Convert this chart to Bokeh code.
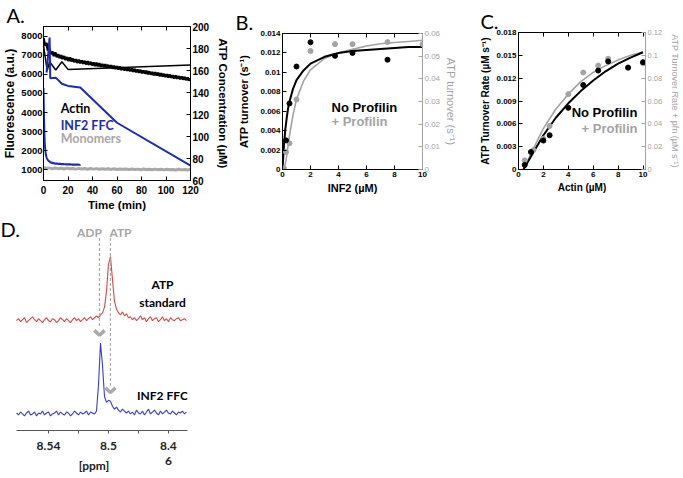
import numpy as np
from bokeh.plotting import figure
from bokeh.models import Range1d, LinearAxis, FixedTicker, CustomJSTickFormatter, Label, Title
from bokeh.layouts import row, column
from bokeh.embed import file_html
from bokeh.resources import INLINE
from bokeh.core.properties import value

# ---------------- Panel A data ----------------
A_ACTIN_T = np.arange(101) * 1.2
A_ACTIN_F = [7900, 7500, 7650, 7250, 7350, 7050, 7200, 6950, 7150, 6900,
             7050, 6850, 7000, 6800, 6950, 6750, 6900, 6700, 6880, 6680,
             6820, 6640, 6790, 6600, 6760, 6580, 6720, 6560, 6700, 6520,
             6680, 6500, 6650, 6470, 6620, 6440, 6600, 6420, 6580, 6400,
             6540, 6380, 6520, 6350, 6490, 6330, 6470, 6300, 6450, 6280,
             6420, 6260, 6400, 6230, 6370, 6210, 6350, 6190, 6330, 6160,
             6300, 6140, 6280, 6110, 6250, 6090, 6230, 6060, 6200, 6040,
             6180, 6010, 6150, 5990, 6120, 5960, 6100, 5940, 6080, 5910,
             6050, 5890, 6020, 5860, 6000, 5840, 5980, 5820, 5950, 5790,
             5930, 5770, 5900, 5750, 5880, 5730, 5860, 5700, 5830, 5680, 5780]
A_MONO_T = np.arange(51) * 2.4
A_MONO_F = [1130, 1080, 1110, 1060, 1100, 1070, 1090, 1050, 1095, 1060,
            1080, 1045, 1085, 1050, 1075, 1040, 1080, 1045, 1070, 1035,
            1065, 1040, 1060, 1030, 1065, 1025, 1055, 1035, 1050, 1020,
            1055, 1025, 1045, 1015, 1050, 1020, 1040, 1010, 1045, 1015,
            1035, 1005, 1040, 1010, 1030, 1000, 1035, 1005, 1025, 995, 1030]
A_FFC_T = [0, 0.25, 0.5, 0.75, 1, 1.5, 2, 2.5, 3, 3.5, 4, 4.5, 5, 5.6, 6.2, 6.8,
           7.4, 8, 8.6, 9.2, 9.8, 10.4, 11, 11.6, 12.2, 12.8, 13.4, 14, 14.6,
           15.2, 15.8, 16.4, 17, 17.6, 18.2, 18.8, 19.4, 20, 20.6, 21.2, 21.8,
           22.4, 23, 23.6, 24.2, 24.8, 25.4, 26, 26.6, 27.2, 27.8, 28.4, 29, 29.6, 30]
A_FFC_F = [5300, 4300, 3500, 2900, 2450, 2000, 1780, 1650, 1580, 1520, 1490, 1440,
           1460, 1380, 1420, 1350, 1400, 1330, 1380, 1320, 1370, 1300, 1360, 1300,
           1350, 1290, 1345, 1285, 1340, 1280, 1335, 1275, 1330, 1270, 1330, 1265,
           1325, 1260, 1320, 1262, 1318, 1258, 1315, 1255, 1312, 1252, 1310, 1250,
           1308, 1248, 1305, 1246, 1302, 1245, 1290]
A_ATP_ACTIN_T = [0, 3, 5, 10, 15, 20, 120]
A_ATP_ACTIN = [183, 160, 168, 160.5, 168, 161, 165]
A_ATP_FFC_T = [2.5, 5, 5.5, 10, 15, 20, 30, 60, 120]
A_ATP_FFC = [158, 190, 153, 153.5, 148, 146, 144.5, 112.5, 73.5]
A_X_TICKS = [0, 20, 40, 60, 80, 100, 120]
A_L_TICKS = [1000, 2000, 3000, 4000, 5000, 6000, 7000, 8000]
A_R_TICKS = [60, 80, 100, 120, 140, 160, 180, 200]
A_LEGEND = ["Actin", "INF2 FFC", "Monomers"]
A_LEGEND_Y = [4230, 3340, 2630]

# ---------------- Panel B data ----------------
B_X_BLACK = [0.25, 0.5, 1, 2, 3.75, 5, 7.5]
B_Y_BLACK = [0.0030, 0.0068, 0.0106, 0.0131, 0.0117, 0.0120, 0.0113]
B_X_GRAY = [0.1, 0.25, 0.5, 1, 2, 3.75, 5, 7.5, 10]
B_Y_GRAY = [0.0005, 0.0077, 0.0116, 0.0309, 0.0523, 0.0553, 0.0553, 0.0562, 0.0553]
B_FIT_X = [0, 0.1, 0.2, 0.3, 0.4, 0.5, 0.75, 1, 1.5, 2, 3, 4, 5, 6, 7, 8, 9, 10]
B_FIT_BLACK = [0, 0.0024, 0.0041, 0.0053, 0.0063, 0.0070, 0.0083, 0.0092, 0.0102,
               0.0109, 0.0116, 0.0120, 0.0122, 0.0123, 0.0124, 0.0125, 0.0126, 0.0126]
B_FIT_GRAY_X = [0.1, 0.25, 0.5, 0.75, 1, 1.5, 2, 3, 4, 5, 6, 7, 8, 9, 10]
B_FIT_GRAY = [0, 0.004, 0.015, 0.024, 0.031, 0.039, 0.044, 0.049, 0.0515, 0.053,
              0.0545, 0.0555, 0.056, 0.0565, 0.057]
B_X_TICKS = [0, 2, 4, 6, 8, 10]
B_L_TICKS = [0, 0.002, 0.004, 0.006, 0.008, 0.01, 0.012, 0.014]
B_R_TICKS = [0, 0.01, 0.02, 0.03, 0.04, 0.05, 0.06]

# ---------------- Panel C data ----------------
C_X_BLACK = [0.5, 1, 2, 2.5, 4, 5.2, 6.4, 7.2, 8.8, 10]
C_Y_BLACK = [0.0006, 0.0023, 0.0038, 0.0045, 0.0081, 0.0111, 0.0130, 0.0142, 0.0134, 0.0141]
C_X_GRAY = [0.5, 1.2, 2, 2.5, 4, 5.2, 6.4, 7.2, 8.8, 10]
C_Y_GRAY = [0.008, 0.017, 0.027, 0.038, 0.066, 0.085, 0.091, 0.097, 0.089, 0.093]
C_FIT_X = [0.4, 1, 2, 3, 4, 5, 6, 7, 8, 9, 10]
C_FIT_BLACK = [0, 0.0017, 0.0045, 0.0068, 0.0087, 0.0103, 0.0117, 0.0129, 0.0139, 0.0147, 0.0154]
C_FIT_GRAY = [0, 0.014, 0.036, 0.053, 0.066, 0.077, 0.085, 0.091, 0.096, 0.100, 0.103]
C_X_TICKS = [0, 2, 4, 6, 8, 10]
C_L_TICKS = [0, 0.003, 0.006, 0.009, 0.012, 0.015, 0.018]
C_R_TICKS = [0, 0.02, 0.04, 0.06, 0.08, 0.1, 0.12]

# ---------------- Panel D data ----------------
D_PPM = np.linspace(8.5613, 8.4480, 86)
D_RED = [0, 2, -1, 1, 3, -2, 0, 2, 4, 1, -1, 2, 0, -2, 1, 3, 0, -1, 2, 1, -2, 0,
         3, 1, -1, 2, 0, -2, 1, 3, 0, 2, -1, 1, 3, 0, 2, 4, 1, 3, 5, 3, 6,
         8, 14, 30, 58, 66, 42, 20, 12, 8, 6, 9, 5, 7, 3,
         4, 1, 3, 0, 2, 5, 1, 3, -1, 2, 4, 0, 2, 3, -1, 1, 4, 0, 2, -1, 3, 1,
         0, 2, 3, 0, 1, 2, 0]
D_BLUE = [1, -1, 2, 0, -2, 1, 3, -1, 0, 2, -2, 1, 0, 3, -1, 1, 2, -2, 0, 1, 3,
          -1, 2, 0, -1, 2, 1, -2, 0, 3, 1, -1, 2, 0, 1, 3, -1, 2, 1, 0,
          3, 30, 73, 50, 18, 12, 14, 13, 8, 5, 7, 4, 2, 5, 3,
          1, 3, 0, 2, -1, 4, 1, 0, 3, -1, 2, 5, 0, 2, 4, 1, -1, 3, 0, 2, 4, 1,
          0, 3, 1, -1, 2, 1, 3, 0, 2]
D_RED_OFFSET = 113
D_BLUE_OFFSET = 17
D_PEAK_PPM = [8.506, 8.4987]          # ADP, ATP
D_PEAK_NAMES = ["ADP", "ATP"]
D_NAME_PPM = [8.5127, 8.492]
D_NAME_Y = [204, 204]
D_DASH_TOP = [198, 198]
D_DASH_BOTTOM = [106, 46]
D_CHEVRON_Y = [98, 39]
D_X_TICKS = [8.54, 8.52, 8.5, 8.48, 8.46]
D_X_LABELS = {8.54: "8.54", 8.52: "", 8.5: "8.5", 8.48: "", 8.46: "8.4\n6"}
D_TRACE_NAMES = ["ATP\nstandard", "INF2 FFC"]
D_TRACE_NAME_PPM = [8.464, 8.464]
D_TRACE_NAME_Y = [141, 36]

SANS = "Liberation Sans"
CAL = "Lato"
GRAY = "#a3a3a3"
BLUE_A = "#1b2bb5"


def style_axis(ax, color, size, label_size, bold=True, label_bold=True, font=SANS):
    ax.major_tick_in = 4
    ax.major_tick_out = 0
    ax.minor_tick_line_color = None
    ax.axis_line_color = color
    ax.major_tick_line_color = color
    ax.major_label_text_color = color
    ax.major_label_text_font = font
    ax.major_label_text_font_size = size
    ax.major_label_text_font_style = "bold" if bold else "normal"
    ax.major_label_standoff = 2
    ax.axis_label_text_color = color
    ax.axis_label_text_font = font
    ax.axis_label_text_font_size = label_size
    ax.axis_label_text_font_style = "bold" if label_bold else "normal"
    ax.axis_label_standoff = 2


def js_fmt():
    return CustomJSTickFormatter(code="return String(tick);")


def base_fig(w, h, xr, yr, bl, br, bt, bb):
    p = figure(width=w, height=h, x_range=xr, y_range=yr, title=None,
               output_backend="svg", toolbar_location=None, frame_align=False,
               min_border_left=bl, min_border_right=br,
               min_border_top=bt, min_border_bottom=bb)
    p.xgrid.visible = False
    p.ygrid.visible = False
    p.outline_line_color = "black"
    p.background_fill_color = "white"
    p.border_fill_color = "white"
    return p


def add_top_axis(p, ticks):
    top = LinearAxis(ticker=FixedTicker(ticks=ticks),
                     formatter=CustomJSTickFormatter(code="return '';"))
    style_axis(top, "black", "1px", "1px")
    top.major_label_standoff = 0
    p.add_layout(top, "above")


def letter_title(p, text, offset):
    p.add_layout(Title(text=text, align="left", offset=offset, standoff=0,
                       text_font=CAL, text_font_size="20px", text_font_style="normal",
                       text_color="black"), "above")


# ================= Panel A =================
pA = base_fig(232, 218, Range1d(0, 120), Range1d(450, 8500), 37, 42, 24, 38)
pA.extra_y_ranges = {"atp": Range1d(60, 200)}
pA.xaxis.ticker = FixedTicker(ticks=A_X_TICKS)
pA.yaxis.ticker = FixedTicker(ticks=A_L_TICKS)
pA.xaxis.axis_label = "Time (min)"
pA.yaxis.axis_label = "Fluorescence (a.u.)"
style_axis(pA.xaxis[0], "black", "10px", "11.5px")
pA.xaxis.major_label_standoff = 5
style_axis(pA.yaxis[0], "black", "9.5px", "12px")
pA.yaxis.major_label_standoff = 1
pA.yaxis.axis_label_standoff = 1
rA = LinearAxis(y_range_name="atp", ticker=FixedTicker(ticks=A_R_TICKS),
                axis_label="ATP Concentration (µM)")
style_axis(rA, "black", "10px", "11.5px")
rA.axis_label_standoff = 5
pA.add_layout(rA, "right")
add_top_axis(pA, A_X_TICKS)
letter_title(pA, "A.", -37)

pA.line(A_MONO_T, A_MONO_F, color="#a8a8a8", line_width=3)
pA.line(A_ACTIN_T, A_ACTIN_F, color="black", line_width=2.5)
pA.line(A_FFC_T, A_FFC_F, color=BLUE_A, line_width=2)
pA.line(A_ATP_ACTIN_T, A_ATP_ACTIN, color="black", line_width=1.5, y_range_name="atp")
pA.line(A_ATP_FFC_T, A_ATP_FFC, color=BLUE_A, line_width=2, y_range_name="atp")
pA.text(x=[14, 14, 14], y=A_LEGEND_Y, text=A_LEGEND,
        text_color=["black", BLUE_A, "#a8a8a8"], text_font=value(CAL),
        text_font_style="bold", text_font_size="12.5px", text_baseline="middle")

# ================= Panel B =================
pB = base_fig(228, 218, Range1d(0, 10), Range1d(0, 0.014), 50, 33, 33, 49)
pB.extra_y_ranges = {"pfn": Range1d(0, 0.06)}
pB.xaxis.ticker = FixedTicker(ticks=B_X_TICKS)
pB.yaxis.ticker = FixedTicker(ticks=B_L_TICKS)
pB.yaxis.formatter = js_fmt()
pB.xaxis.axis_label = "INF2 (µM)"
pB.yaxis.axis_label = "ATP turnover (s⁻¹)"
style_axis(pB.xaxis[0], "black", "8px", "11px")
style_axis(pB.yaxis[0], "black", "8px", "11px")
pB.yaxis.axis_label_standoff = 7
rB = LinearAxis(y_range_name="pfn", ticker=FixedTicker(ticks=B_R_TICKS),
                formatter=js_fmt(), axis_label="ATP turnover (s⁻¹)")
style_axis(rB, GRAY, "8px", "11px", bold=False, label_bold=False)
pB.add_layout(rB, "right")
add_top_axis(pB, B_X_TICKS)
letter_title(pB, "B.", -47)

pB.line(B_FIT_GRAY_X, B_FIT_GRAY, color=GRAY, line_width=1.6, y_range_name="pfn")
pB.line(B_FIT_X, B_FIT_BLACK, color="black", line_width=2)
pB.scatter(B_X_GRAY, B_Y_GRAY, size=5, color=GRAY, y_range_name="pfn")
pB.scatter(B_X_BLACK, B_Y_BLACK, size=5, color="black")
pB.text(x=[3.5, 3.5], y=[0.0064, 0.0049], text=["No Profilin", "+ Profilin"],
        text_color=["black", GRAY], text_font=value(SANS), text_font_style="bold",
        text_font_size="13px", text_baseline="middle")

# ================= Panel C =================
pC = base_fig(223, 218, Range1d(0, 10.2), Range1d(0, 0.018), 58, 36, 32, 49)
pC.extra_y_ranges = {"pfn": Range1d(0, 0.12)}
pC.xaxis.ticker = FixedTicker(ticks=C_X_TICKS)
pC.yaxis.ticker = FixedTicker(ticks=C_L_TICKS)
pC.yaxis.formatter = js_fmt()
pC.xaxis.axis_label = "Actin (µM)"
pC.yaxis.axis_label = "ATP Turnover Rate (µM s⁻¹)"
style_axis(pC.xaxis[0], "black", "8px", "10px")
style_axis(pC.yaxis[0], "black", "8px", "10px")
rC = LinearAxis(y_range_name="pfn", ticker=FixedTicker(ticks=C_R_TICKS),
                formatter=js_fmt(), axis_label="ATP Turnover Rate + pfn (µM s⁻¹)")
style_axis(rC, GRAY, "7.5px", "9px", bold=False, label_bold=False)
rC.axis_label_standoff = 5
pC.add_layout(rC, "right")
add_top_axis(pC, C_X_TICKS)
letter_title(pC, "C.", -38)

pC.line(C_FIT_X, C_FIT_GRAY, color=GRAY, line_width=1.6, y_range_name="pfn")
pC.line(C_FIT_X, C_FIT_BLACK, color="black", line_width=2)
pC.scatter(C_X_GRAY, C_Y_GRAY, size=5, color=GRAY, y_range_name="pfn")
pC.scatter(C_X_BLACK, C_Y_BLACK, size=5, color="black")
pC.text(x=[4.27, 5.06], y=[0.00744, 0.0054], text=["No Profilin", "+ Profilin"],
        text_color=["black", GRAY], text_font=value(SANS), text_font_style="bold",
        text_font_size="13px", text_baseline="middle")

# ================= Panel D =================
pD = figure(width=200, height=258, x_range=Range1d(8.572, 8.4473),
            y_range=Range1d(0, 214), title=None, frame_align=False,
            output_backend="svg", toolbar_location=None, y_axis_location=None,
            min_border_left=0, min_border_right=13, min_border_top=4, min_border_bottom=40)
pD.xgrid.visible = False
pD.ygrid.visible = False
pD.outline_line_color = None
axD = pD.xaxis[0]
axD.bounds = (8.4473, 8.5613)
axD.ticker = FixedTicker(ticks=D_X_TICKS)
axD.major_label_overrides = D_X_LABELS
axD.major_tick_in = 0
axD.major_tick_out = 3
axD.minor_tick_line_color = None
axD.axis_line_color = "#555555"
axD.major_tick_line_color = "#555555"
axD.major_label_text_font = CAL
axD.major_label_text_font_style = "bold"
axD.major_label_text_font_size = "12px"
axD.major_label_text_color = "#222222"
axD.major_label_standoff = 4
axD.major_label_text_line_height = 1.05
axD.axis_label = "[ppm]"
axD.axis_label_text_font = CAL
axD.axis_label_text_font_style = "bold"
axD.axis_label_text_font_size = "12px"
axD.axis_label_text_color = "#222222"
axD.axis_label_standoff = -13

pD.line(D_PPM, D_RED_OFFSET + np.array(D_RED), color="#d9474b", line_width=1.1)
pD.line(D_PPM, D_BLUE_OFFSET + np.array(D_BLUE), color="#3b3bc6", line_width=1.1)
pD.segment(x0=D_PEAK_PPM, y0=D_DASH_TOP, x1=D_PEAK_PPM, y1=D_DASH_BOTTOM,
           line_dash="3 2", line_color="#aaaaaa", line_width=1.2)
CH_W = 0.0034
CH_H = 5
pD.multi_line(xs=[[x + CH_W, x, x - CH_W] for x in D_PEAK_PPM],
              ys=[[y + CH_H, y, y + CH_H] for y in D_CHEVRON_Y],
              line_color="#aaaaaa", line_width=3.5)
pD.text(x=D_NAME_PPM, y=D_NAME_Y, text=D_PEAK_NAMES, text_color="#a6a6a6",
        text_font=value(CAL), text_font_style="bold", text_font_size="12px",
        text_align="center", text_baseline="middle")
pD.text(x=D_TRACE_NAME_PPM, y=D_TRACE_NAME_Y, text=D_TRACE_NAMES, text_color="black",
        text_font=value(CAL), text_font_style="bold", text_font_size="12px",
        text_align="center", text_baseline="middle", text_line_height=1.15)
pD.add_layout(Label(x=0, y=214, x_units="screen", y_units="screen", text="D.",
                    text_font=CAL, text_font_size="20px", text_baseline="top",
                    text_color="black"))

layout = column(row(pA, pB, pC), pD)
open("out.html", "w").write(file_html(layout, INLINE))
